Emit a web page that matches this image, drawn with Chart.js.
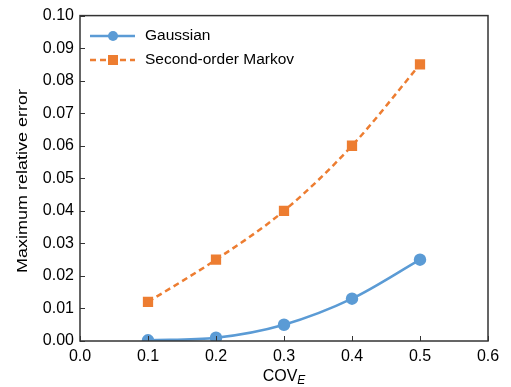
<!DOCTYPE html>
<html><head><meta charset="utf-8">
<script src="https://cdn.jsdelivr.net/npm/chart.js@4"></script>
<style>html,body{margin:0;padding:0;background:#fff}#wrap{width:511px;height:387px}</style>
</head><body><div id="wrap"><canvas id="c" width="511" height="387"></canvas></div>
<script>
const covE = [0.1, 0.2, 0.3, 0.4, 0.5];
const gaussian = [0.0002, 0.001, 0.005, 0.013, 0.025];
const markov = [0.012, 0.025, 0.040, 0.060, 0.085];
const seriesNames = ['Gaussian', 'Second-order Markov'];
const xTitle = 'COV';
const xTitleSub = 'E';
const yTitle = 'Maximum relative error';
const FONT = '"Liberation Sans", Arial, sans-serif';
const BLUE = '#5B9BD5', ORANGE = '#ED7D31';

const frame = {
  id: 'frame',
  afterDraw(chart) {
    const {ctx, chartArea: a, scales: {x, y}} = chart;
    ctx.save();
    ctx.strokeStyle = '#333';
    ctx.lineWidth = 1.5;
    ctx.strokeRect(a.left, a.top, a.right - a.left, a.bottom - a.top);
    ctx.lineWidth = 1;
    ctx.beginPath();
    x.ticks.forEach(t => { const px = Math.round(x.getPixelForValue(t.value)) + 0.5; ctx.moveTo(px, a.bottom); ctx.lineTo(px, a.bottom - 5); });
    y.ticks.forEach(t => { const py = Math.round(y.getPixelForValue(t.value)) + 0.5; ctx.moveTo(a.left, py); ctx.lineTo(a.left + 5, py); });
    ctx.stroke();
    // titles
    ctx.fillStyle = '#000';
    ctx.font = '16px ' + FONT;
    ctx.textBaseline = 'alphabetic';
    const w1 = ctx.measureText(xTitle).width;
    ctx.font = 'italic 12px ' + FONT;
    const w2 = ctx.measureText(xTitleSub).width;
    const cx = (a.left + a.right) / 2;
    const sx = cx - (w1 + w2) / 2;
    ctx.font = '16px ' + FONT;
    ctx.textAlign = 'left';
    ctx.fillText(xTitle, sx, 381);
    ctx.font = 'italic 12px ' + FONT;
    ctx.fillText(xTitleSub, sx + w1, 384);
    ctx.save();
    ctx.translate(27, 181);
    ctx.rotate(-Math.PI / 2);
    ctx.scale(1.2, 1);
    ctx.font = '15px ' + FONT;
    ctx.textAlign = 'center';
    ctx.fillText(yTitle, 0, 0);
    ctx.restore();
    // legend
    const rows = [{y: 36, ds: chart.data.datasets[0]}, {y: 60, ds: chart.data.datasets[1]}];
    rows.forEach(r => {
      ctx.strokeStyle = r.ds.borderColor;
      ctx.lineWidth = 2.5;
      ctx.setLineDash(r.ds.borderDash || []);
      ctx.beginPath(); ctx.moveTo(90, r.y); ctx.lineTo(135, r.y); ctx.stroke();
      ctx.setLineDash([]);
      ctx.fillStyle = r.ds.pointBackgroundColor;
      if (r.ds.pointStyle === 'rect') ctx.fillRect(108, r.y - 5, 10, 10);
      else { ctx.beginPath(); ctx.arc(113, r.y, 5, 0, Math.PI * 2); ctx.fill(); }
      ctx.fillStyle = '#000';
      ctx.font = '15.5px ' + FONT;
      ctx.textAlign = 'left';
      ctx.textBaseline = 'middle';
      ctx.fillText(r.ds.label, 145, r.y);
    });
    ctx.restore();
  }
};

new Chart(document.getElementById('c'), {
  type: 'line',
  data: {
    datasets: [
      {label: seriesNames[0], data: covE.map((v, i) => ({x: v, y: gaussian[i]})), borderColor: BLUE, backgroundColor: BLUE,
       pointBackgroundColor: BLUE, pointBorderColor: BLUE, pointStyle: 'circle', pointRadius: 5, borderWidth: 2.5, cubicInterpolationMode: 'monotone'},
      {label: seriesNames[1], data: covE.map((v, i) => ({x: v, y: markov[i]})), borderColor: ORANGE, backgroundColor: ORANGE,
       pointBackgroundColor: ORANGE, pointBorderColor: ORANGE, pointStyle: 'rect', pointRadius: 5.5, borderWidth: 2.5, borderDash: [6, 4], cubicInterpolationMode: 'monotone'}
    ]
  },
  options: {
    responsive: false, animation: false, devicePixelRatio: 1,
    layout: {padding: {left: 0, top: 15, right: 23, bottom: 0}},
    plugins: {legend: {display: false}, tooltip: {enabled: false}},
    scales: {
      x: {type: 'linear', min: 0, max: 0.6,
        ticks: {stepSize: 0.1, color: '#000', font: {family: FONT, size: 16}, padding: 6, callback: v => v.toFixed(1)},
        grid: {display: false, drawTicks: false}, border: {display: false},
        afterFit: s => { s.height = 46; }},
      y: {min: 0, max: 0.1,
        ticks: {stepSize: 0.01, color: '#000', font: {family: FONT, size: 16}, padding: 6, callback: v => v.toFixed(2)},
        grid: {display: false, drawTicks: false}, border: {display: false},
        afterFit: s => { s.width = 80; }}
    }
  },
  plugins: [frame]
});
</script></body></html>
